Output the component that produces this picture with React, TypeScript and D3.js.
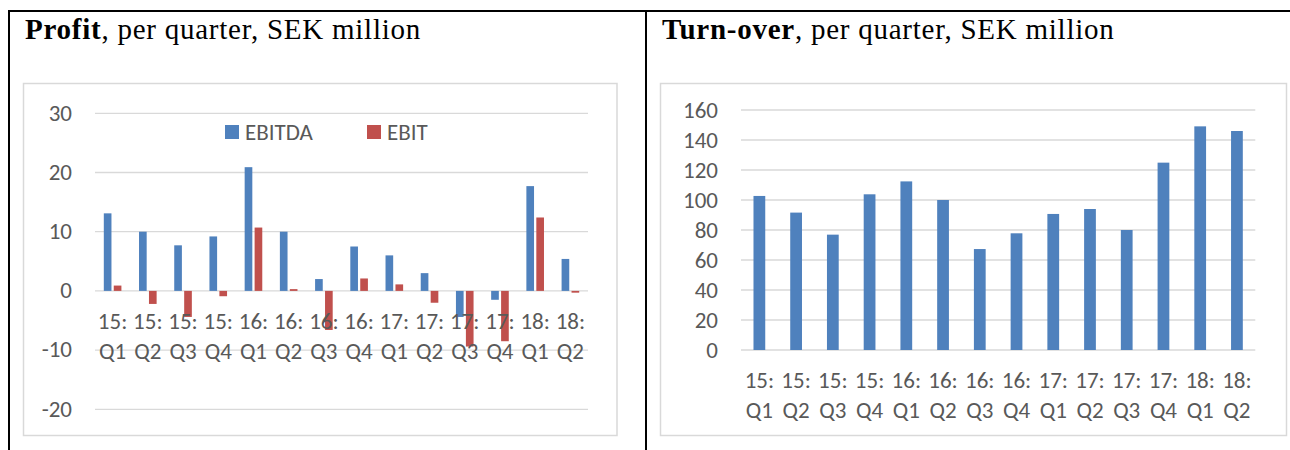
import {scaleBand, scaleLinear} from "d3";

const QUARTERS = [
  "15:Q1", "15:Q2", "15:Q3", "15:Q4",
  "16:Q1", "16:Q2", "16:Q3", "16:Q4",
  "17:Q1", "17:Q2", "17:Q3", "17:Q4",
  "18:Q1", "18:Q2"
];

const EBITDA = [13.1, 10.0, 7.7, 9.2, 20.9, 10.0, 2.0, 7.5, 6.0, 3.0, -4.4, -1.5, 17.7, 5.4];
const EBIT = [0.9, -2.2, -4.4, -0.9, 10.7, 0.3, -6.6, 2.1, 1.1, -2.0, -9.4, -8.5, 12.4, -0.3];
const TURNOVER = [102.7, 91.6, 76.9, 103.8, 112.4, 100.0, 67.3, 77.8, 90.7, 94.0, 80.0, 124.9, 149.1, 146.0];

const PROFIT_TICKS = [-20, -10, 0, 10, 20, 30];
const TURNOVER_TICKS = [0, 20, 40, 60, 80, 100, 120, 140, 160];

const SERIES = ["EBITDA", "EBIT"];
const BLUE = "#4f81bd";
const RED = "#c0504d";
const GRID = "#d9d9d9";
const TEXT = "#595959";
const SANS = "Carlito, Calibri, Lato, sans-serif";
const SERIF = "'Liberation Serif', 'Times New Roman', serif";
const LABEL_SIZE = 23;

function QuarterLabels({x, y1, y2}: {x: (q: string) => number; y1: number; y2: number}) {
  return (
    <g fill={TEXT} fontFamily={SANS} fontSize={LABEL_SIZE} textAnchor="middle">
      {QUARTERS.map((q) => {
        const [year, quarter] = q.split(":");
        return (
          <g key={q}>
            <text x={x(q)} y={y1}>{`${year}:`}</text>
            <text x={x(q)} y={y2}>{quarter}</text>
          </g>
        );
      })}
    </g>
  );
}

function ProfitChart() {
  const left = 95;
  const right = 588;
  const y = scaleLinear().domain([-20, 30]).range([409.3, 113.3]);
  const x0 = scaleBand<string>().domain(QUARTERS).range([left, right]).paddingInner(0.5).paddingOuter(0.25);
  const x1 = scaleBand<string>().domain(SERIES).range([0, x0.bandwidth()]).paddingInner(0.23);
  const values: Record<string, number[]> = {EBITDA, EBIT};
  const colors: Record<string, string> = {EBITDA: BLUE, EBIT: RED};

  return (
    <g>
      <rect x={23.5} y={83.5} width={593.5} height={352} fill="#fff" stroke={GRID} strokeWidth={1.5} />
      {PROFIT_TICKS.map((t) => (
        <g key={t}>
          <line x1={left} x2={right} y1={y(t)} y2={y(t)} stroke={GRID} strokeWidth={1.3} />
          <text x={72} y={y(t) + 7.3} textAnchor="end" fill={TEXT} fontFamily={SANS} fontSize={LABEL_SIZE}>
            {t}
          </text>
        </g>
      ))}
      {SERIES.map((s) =>
        values[s].map((v, i) => (
          <rect
            key={`${s}-${i}`}
            x={(x0(QUARTERS[i]) ?? 0) + (x1(s) ?? 0)}
            y={y(Math.max(0, v))}
            width={x1.bandwidth()}
            height={Math.abs(y(v) - y(0))}
            fill={colors[s]}
          />
        ))
      )}
      <QuarterLabels x={(q) => (x0(q) ?? 0) + x0.bandwidth() / 2} y1={329.3} y2={359.3} />
      <g fontFamily={SANS} fontSize={LABEL_SIZE} fill={TEXT}>
        <rect x={225} y={125} width={14} height={14} fill={BLUE} />
        <text x={245} y={139.5}>EBITDA</text>
        <rect x={367} y={125} width={14} height={14} fill={RED} />
        <text x={387} y={139.5}>EBIT</text>
      </g>
    </g>
  );
}

function TurnoverChart() {
  const left = 741;
  const right = 1255.3;
  const y = scaleLinear().domain([0, 160]).range([350, 110]);
  const x = scaleBand<string>().domain(QUARTERS).range([left, right]).paddingInner(0.68).paddingOuter(0.34);

  return (
    <g>
      <rect x={660.5} y={83.5} width={626} height={352} fill="#fff" stroke={GRID} strokeWidth={1.5} />
      {TURNOVER_TICKS.map((t) => (
        <g key={t}>
          <line x1={left} x2={right} y1={y(t)} y2={y(t)} stroke={GRID} strokeWidth={1.3} />
          <text x={718} y={y(t) + 7.7} textAnchor="end" fill={TEXT} fontFamily={SANS} fontSize={LABEL_SIZE}>
            {t}
          </text>
        </g>
      ))}
      {TURNOVER.map((v, i) => (
        <rect
          key={QUARTERS[i]}
          x={x(QUARTERS[i]) ?? 0}
          y={y(v)}
          width={x.bandwidth()}
          height={y(0) - y(v)}
          fill={BLUE}
        />
      ))}
      <QuarterLabels x={(q) => (x(q) ?? 0) + x.bandwidth() / 2} y1={388.3} y2={418.3} />
    </g>
  );
}

export default function App() {
  return (
    <svg
      width={1290}
      height={450}
      viewBox="0 0 1290 450"
      style={{position: "absolute", left: 0, top: 0, background: "#fff"}}
    >
      <line x1={8} x2={1290} y1={11} y2={11} stroke="#000" strokeWidth={2} />
      <line x1={9} x2={9} y1={10} y2={450} stroke="#000" strokeWidth={2} />
      <line x1={646} x2={646} y1={10} y2={450} stroke="#000" strokeWidth={2} />

      <text x={25} y={39} fontFamily={SERIF} fontSize={29} letterSpacing={0.75} fill="#000">
        <tspan fontWeight="bold">Profit</tspan>, per quarter, SEK million
      </text>
      <text x={662} y={39} fontFamily={SERIF} fontSize={29} letterSpacing={0.75} fill="#000">
        <tspan fontWeight="bold">Turn-over</tspan>, per quarter, SEK million
      </text>

      <ProfitChart />
      <TurnoverChart />
    </svg>
  );
}
